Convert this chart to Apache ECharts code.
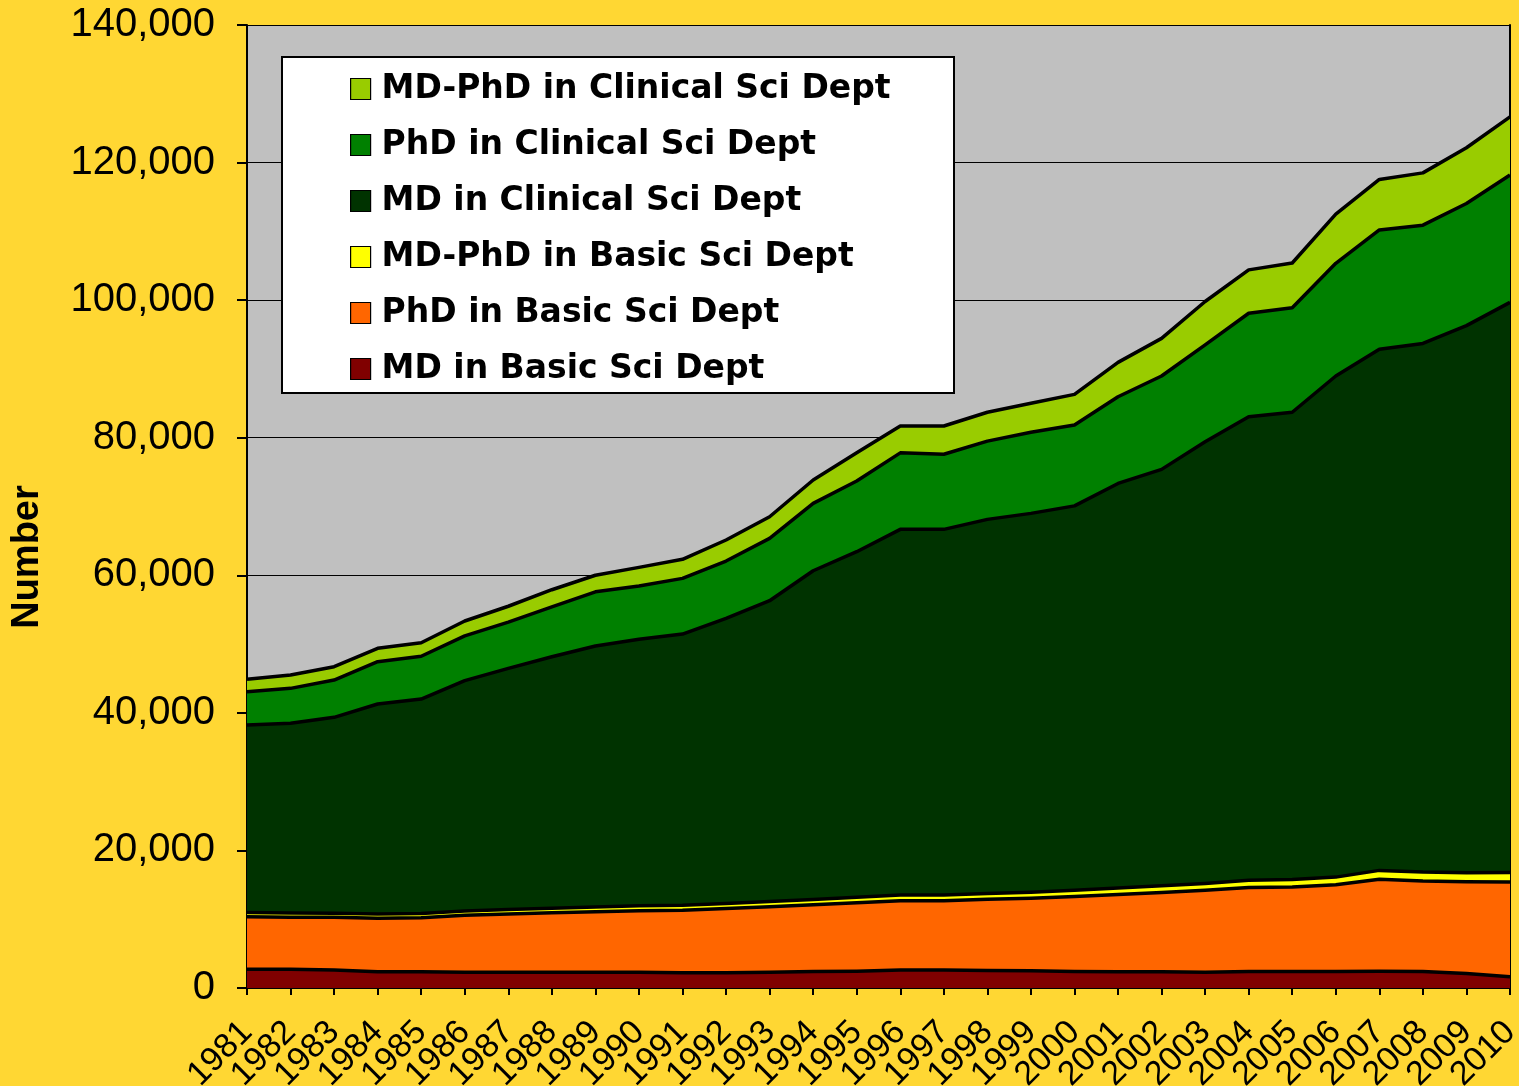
<!DOCTYPE html>
<html>
<head>
<meta charset="utf-8">
<script src="https://cdn.jsdelivr.net/npm/echarts@6/dist/echarts.min.js"></script>
<style>
html,body{margin:0;padding:0;background:#FFD733;}
#chart{width:1519px;height:1086px;}
</style>
</head>
<body>
<div id="chart"></div>
<script>
var years = ['1981','1982','1983','1984','1985','1986','1987','1988','1989','1990',
             '1991','1992','1993','1994','1995','1996','1997','1998','1999','2000',
             '2001','2002','2003','2004','2005','2006','2007','2008','2009','2010'];

var mdBasic = [2720,2720,2620,2370,2370,2300,2300,2300,2300,2300,
               2200,2200,2300,2400,2450,2600,2600,2550,2500,2400,
               2350,2350,2300,2400,2400,2400,2450,2400,2100,1650];

var phdBasic = [7650,7580,7660,7760,7850,8260,8460,8650,8800,8940,
                9100,9350,9520,9700,9950,10100,10100,10350,10540,10900,
                11250,11550,11900,12200,12300,12600,13350,13150,13350,13750];

var mdphdBasic = [600,600,600,620,620,640,650,660,680,700,
                  720,740,760,780,800,820,830,850,870,900,
                  950,980,1000,1050,1080,1120,1300,1300,1320,1380];

var mdClinical = [27260,27580,28470,30540,31170,33480,35060,36550,37940,38750,
                  39440,41450,43720,47780,50230,53160,53150,54380,55090,55890,
                  58800,60520,64200,67400,67920,72850,75750,76850,79530,82900];

var phdClinical = [4850,5080,5420,6150,6220,6520,6730,7240,7880,7750,
                   8090,8330,9070,9800,10270,11120,10920,11370,11800,11760,
                   12600,13570,14100,15050,15200,16380,17350,17200,17750,18520];

var mdphdClinical = [1790,1940,1940,1940,1970,2150,2300,2500,2400,2710,
                     2770,3060,3140,3390,4100,3900,4100,4200,4200,4450,
                     5000,5470,6300,6300,6500,7150,7350,7600,8100,8450];

var seriesNames = ['MD in Basic Sci Dept','PhD in Basic Sci Dept','MD-PhD in Basic Sci Dept',
                   'MD in Clinical Sci Dept','PhD in Clinical Sci Dept','MD-PhD in Clinical Sci Dept'];
var seriesColors = ['#800000','#FF6600','#FFFF00','#003300','#008000','#99CC00'];
var seriesData = [mdBasic, phdBasic, mdphdBasic, mdClinical, phdClinical, mdphdClinical];

var yTicks = {min: 0, max: 140000, interval: 20000};

var chart = echarts.init(document.getElementById('chart'), null, {renderer: 'canvas'});

var series = seriesNames.map(function (name, i) {
  return {
    name: name,
    type: 'line',
    stack: 'total',
    data: seriesData[i],
    symbol: 'none',
    showSymbol: false,
    z: 10 - i,
    color: seriesColors[i],
    lineStyle: {color: '#000', width: 3.5, join: 'round'},
    itemStyle: {color: seriesColors[i]},
    areaStyle: {color: seriesColors[i], opacity: 1},
    emphasis: {disabled: true},
    animation: false
  };
});

var option = {
  backgroundColor: '#FFD733',
  animation: false,
  grid: {left: 247, right: 9, top: 25, bottom: 98, show: true, backgroundColor: '#C0C0C0', borderWidth: 0, outerBoundsMode: 'none'},
  xAxis: {
    type: 'category',
    data: years,
    boundaryGap: false,
    axisLine: {show: true, lineStyle: {color: '#000', width: 2}},
    axisTick: {show: true, inside: false, length: 7, alignWithLabel: true, lineStyle: {color: '#000', width: 2}, interval: 0},
    axisLabel: {interval: 0, rotate: 45, margin: 39, hideOverlap: false, fontFamily: 'Liberation Sans', fontSize: 34, color: '#000'},
    splitLine: {show: false}
  },
  yAxis: [{
    type: 'value',
    min: yTicks.min,
    max: yTicks.max,
    interval: yTicks.interval,
    axisLine: {show: true, lineStyle: {color: '#000', width: 2}},
    axisTick: {show: true, length: 10, lineStyle: {color: '#000', width: 2}},
    axisLabel: {
      margin: 32,
      fontFamily: 'Liberation Sans',
      fontSize: 40,
      color: '#000',
      formatter: function (v) { return v.toLocaleString('en-US'); }
    },
    splitLine: {show: true, lineStyle: {color: '#000', width: 1.2}}
  }, {
    type: 'value',
    position: 'right',
    min: yTicks.min,
    max: yTicks.max,
    interval: yTicks.interval,
    axisLine: {show: true, lineStyle: {color: '#000', width: 2}},
    axisTick: {show: false},
    axisLabel: {show: false},
    splitLine: {show: false}
  }],
  legend: {
    orient: 'vertical',
    left: 350,
    top: 69,
    padding: 0,
    z: 120,
    itemWidth: 20,
    itemHeight: 21,
    itemGap: 16,
    icon: 'rect',
    selectedMode: false,
    data: ['MD-PhD in Clinical Sci Dept','PhD in Clinical Sci Dept','MD in Clinical Sci Dept',
           'MD-PhD in Basic Sci Dept','PhD in Basic Sci Dept','MD in Basic Sci Dept'],
    itemStyle: {borderColor: '#000', borderWidth: 1.2},
    lineStyle: {width: 0},
    textStyle: {
      fontFamily: 'DejaVu Sans',
      fontWeight: 'bold',
      fontSize: 33,
      lineHeight: 40,
      color: '#000',
      padding: [0, 0, 0, 6]
    }
  },
  graphic: {
    elements: [
      {
        type: 'rect',
        z: 100,
        shape: {x: 282, y: 57, width: 672, height: 336},
        style: {fill: '#FFFFFF', stroke: '#000', lineWidth: 2}
      },
      {
        type: 'text',
        z: 100,
        x: 28,
        y: 557,
        rotation: Math.PI / 2,
        style: {
          text: 'Number',
          font: 'bold 38px "Liberation Sans", Arial, sans-serif',
          fill: '#000',
          textAlign: 'center',
          textVerticalAlign: 'middle'
        }
      }
    ]
  },
  series: series
};

chart.setOption(option);
</script>
</body>
</html>
